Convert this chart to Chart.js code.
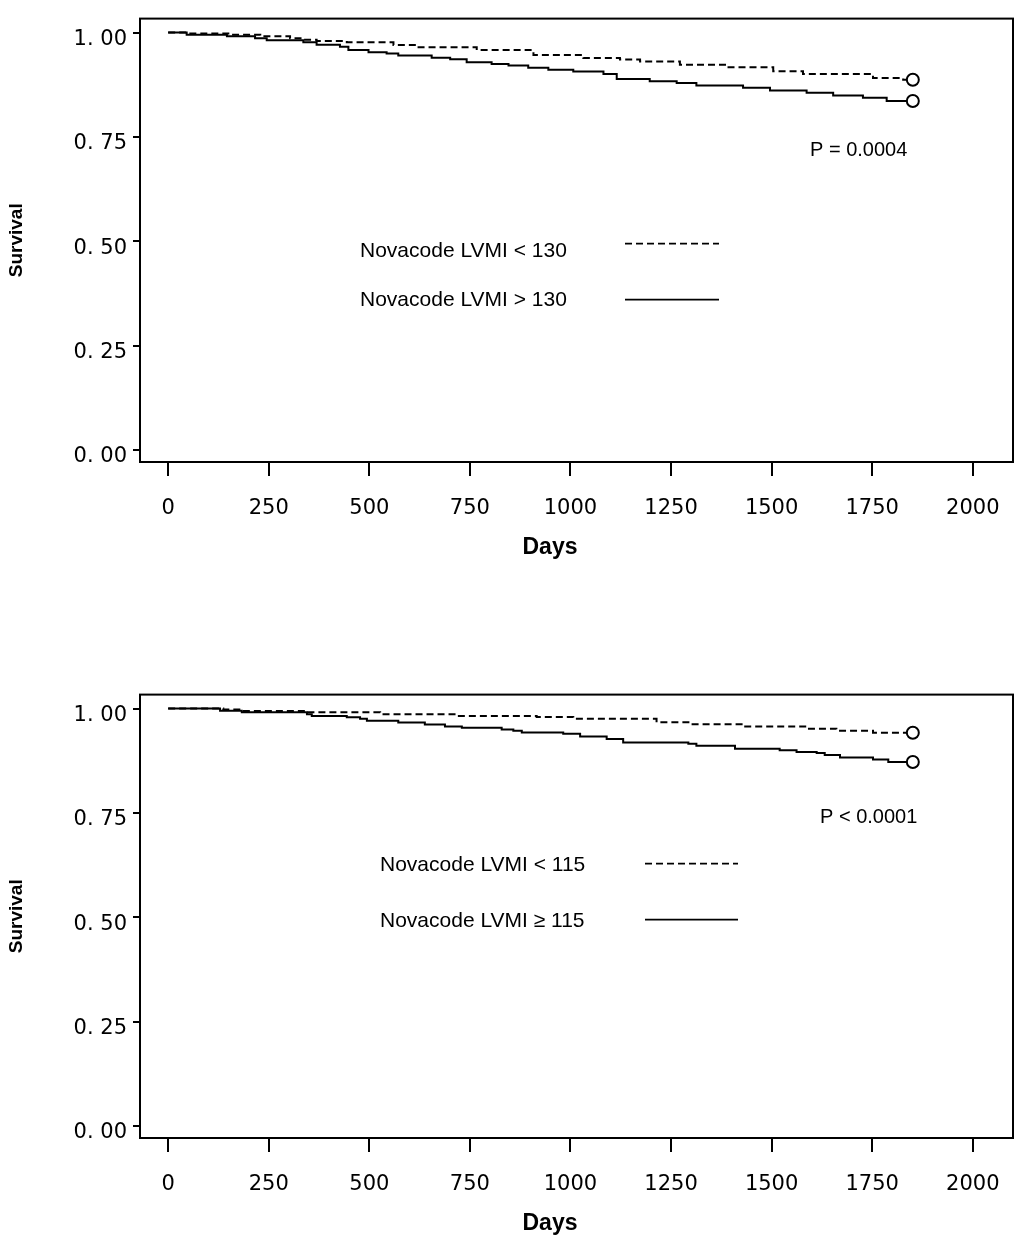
<!DOCTYPE html>
<html>
<head>
<meta charset="utf-8">
<script src="https://cdn.jsdelivr.net/npm/chart.js@4.4.1/dist/chart.umd.min.js"></script>
<style>
    body { margin: 0; background: #fff; width: 1036px; height: 1251px; overflow: hidden; position: relative; }
    canvas { position: absolute; left: 0; }
    #topChart { top: 0; }
    #bottomChart { top: 676px; }
</style>
</head>
<body>
<canvas id="topChart" width="1036" height="575"></canvas>
<canvas id="bottomChart" width="1036" height="575"></canvas>
<script>
// axis ticks
const xTickValues = [0, 250, 500, 750, 1000, 1250, 1500, 1750, 2000];
const yTickValues = [0, 0.25, 0.5, 0.75, 1];
const yTickLabels = ["0. 00", "0. 25", "0. 50", "0. 75", "1. 00"];

// top panel, cut-off 130
const topLabels = ["Novacode LVMI < 130", "Novacode LVMI > 130"];
const topLowDays = [0, 46, 158, 229, 303, 336, 369, 444, 560, 618, 767, 908, 1032, 1123, 1173, 1272, 1388, 1504, 1578, 1752, 1827, 1851];
const topLowSurv = [1, 0.998, 0.995, 0.991, 0.9865, 0.983, 0.980, 0.977, 0.9705, 0.965, 0.958, 0.9466, 0.9394, 0.9354, 0.9306, 0.923, 0.917, 0.9075, 0.901, 0.891, 0.887, 0.887];
const topHighDays = [0, 46, 146, 216, 245, 336, 369, 427, 448, 498, 543, 572, 655, 701, 742, 804, 846, 895, 945, 1007, 1082, 1115, 1197, 1264, 1313, 1429, 1496, 1587, 1653, 1727, 1786, 1851];
const topHighSurv = [1, 0.995, 0.991, 0.9865, 0.9817, 0.977, 0.971, 0.966, 0.9585, 0.953, 0.95, 0.945, 0.94, 0.936, 0.929, 0.925, 0.921, 0.916, 0.911, 0.907, 0.901, 0.889, 0.8835, 0.8795, 0.873, 0.868, 0.861, 0.856, 0.849, 0.844, 0.836, 0.836];
const topPText = "P = 0.0004";

// bottom panel, cut-off 115
const bottomLabels = ["Novacode LVMI < 115", "Novacode LVMI \u2265 115"];
const bottomLowDays = [0, 137, 183, 345, 527, 717, 916, 1007, 1214, 1297, 1429, 1587, 1661, 1752, 1851];
const bottomLowSurv = [1, 0.998, 0.9945, 0.991, 0.9865, 0.9825, 0.980, 0.9754, 0.967, 0.9627, 0.957, 0.9516, 0.947, 0.942, 0.942];
const bottomHighDays = [0, 129, 183, 345, 357, 444, 477, 494, 572, 638, 688, 730, 829, 858, 879, 982, 1024, 1090, 1131, 1293, 1313, 1409, 1520, 1562, 1612, 1632, 1670, 1752, 1790, 1851];
const bottomHighSurv = [1, 0.995, 0.991, 0.9865, 0.9825, 0.979, 0.9754, 0.9707, 0.9667, 0.962, 0.957, 0.954, 0.95, 0.9468, 0.943, 0.9397, 0.933, 0.927, 0.919, 0.916, 0.911, 0.904, 0.9, 0.896, 0.8936, 0.889, 0.883, 0.878, 0.872, 0.872];
const bottomPText = "P < 0.0001";

const tickFont = { family: "'DejaVu Sans', sans-serif", size: 21 };
const legendFont = "21px 'Liberation Sans', Arial, sans-serif";
const pFont = "20px 'Liberation Sans', Arial, sans-serif";

// frame, legend, p-value and x title drawn on top of the chart
const kmNotes = {
    id: "kmNotes",
    afterDraw(chart, args, opts) {
        const { ctx, chartArea } = chart;
        ctx.save();
        ctx.strokeStyle = "#000";
        ctx.lineWidth = 2;
        ctx.strokeRect(chartArea.left, chartArea.top, chartArea.right - chartArea.left, chartArea.bottom - chartArea.top);

        ctx.fillStyle = "#000";
        ctx.font = legendFont;
        ctx.textBaseline = "middle";
        chart.data.datasets.forEach((ds, i) => {
            const row = opts.rows[i];
            ctx.fillText(ds.label, chartArea.left + opts.textX, chartArea.top + row.textY);
            ctx.beginPath();
            ctx.lineWidth = 1.6;
            ctx.setLineDash(ds.borderDash || []);
            ctx.moveTo(chartArea.left + opts.lineX[0], chartArea.top + row.lineY);
            ctx.lineTo(chartArea.left + opts.lineX[1], chartArea.top + row.lineY);
            ctx.stroke();
            ctx.setLineDash([]);
        });
        ctx.font = pFont;
        ctx.fillText(opts.pText, chartArea.left + opts.pX, chartArea.top + opts.pY);

        ctx.font = "bold 23px 'Liberation Sans', Arial, sans-serif";
        ctx.textAlign = "center";
        ctx.fillText("Days", chartArea.left + opts.titleX, chartArea.bottom + opts.titleDy);
        ctx.restore();
    }
};

function toPoints(days, surv) {
    return days.map((d, i) => ({ x: d, y: surv[i] }));
}

function lastPointRadius(ctx) {
    return ctx.dataIndex === ctx.dataset.data.length - 1 ? 6 : 0;
}

function survivalDataset(label, days, surv, dashed) {
    return {
        label: label,
        data: toPoints(days, surv),
        stepped: "before",
        borderColor: "#000",
        borderWidth: 2,
        borderDash: dashed ? [7, 4] : [],
        fill: false,
        pointRadius: lastPointRadius,
        pointStyle: "circle",
        pointBackgroundColor: "#fff",
        pointBorderColor: "#000",
        pointBorderWidth: 2
    };
}

function renderSurvivalChart(canvasId, datasets, notes) {
    const ctx = document.getElementById(canvasId).getContext("2d");
    return new Chart(ctx, {
        type: "line",
        data: { datasets: datasets },
        plugins: [kmNotes],
        options: {
            responsive: false,
            animation: false,
            layout: { padding: { top: 18, right: 23, left: 0, bottom: 0 } },
            plugins: {
                legend: { display: false },
                tooltip: { enabled: false },
                kmNotes: notes
            },
            scales: {
                x: {
                    type: "linear",
                    min: -70,
                    max: 2100,
                    afterBuildTicks: scale => { scale.ticks = xTickValues.map(v => ({ value: v })); },
                    afterFit: scale => { scale.height = 113; },
                    ticks: {
                        color: "#000",
                        font: tickFont,
                        padding: 20,
                        maxRotation: 0,
                        callback: value => String(value)
                    },
                    grid: { drawOnChartArea: false, drawTicks: true, tickLength: 14, color: "#000", lineWidth: 2 },
                    border: { display: true, color: "#000", width: 2 }
                },
                y: {
                    min: -0.0287,
                    max: 1.0335,
                    afterBuildTicks: scale => { scale.ticks = yTickValues.map(v => ({ value: v })); },
                    afterFit: scale => { scale.width = 140; },
                    ticks: {
                        color: "#000",
                        font: tickFont,
                        padding: 6,
                        labelOffset: 7,
                        callback: value => yTickLabels[yTickValues.indexOf(value)]
                    },
                    grid: { drawOnChartArea: false, drawTicks: true, tickLength: 7, color: "#000", lineWidth: 2 },
                    border: { display: true, color: "#000", width: 2 },
                    title: {
                        display: true,
                        text: "Survival",
                        color: "#000",
                        font: { family: "'Liberation Sans', Arial, sans-serif", size: 19, weight: "bold" },
                        padding: { top: 5, bottom: 0 }
                    }
                }
            }
        }
    });
}

renderSurvivalChart("topChart", [
    survivalDataset(topLabels[0], topLowDays, topLowSurv, true),
    survivalDataset(topLabels[1], topHighDays, topHighSurv, false)
], {
    rows: [{ textY: 233, lineY: 225 }, { textY: 282, lineY: 281 }],
    textX: 220,
    lineX: [485, 579],
    pText: topPText,
    pX: 670,
    pY: 132,
    titleX: 410,
    titleDy: 86
});

renderSurvivalChart("bottomChart", [
    survivalDataset(bottomLabels[0], bottomLowDays, bottomLowSurv, true),
    survivalDataset(bottomLabels[1], bottomHighDays, bottomHighSurv, false)
], {
    rows: [{ textY: 171, lineY: 169 }, { textY: 227, lineY: 225 }],
    textX: 240,
    lineX: [505, 598],
    pText: bottomPText,
    pX: 680,
    pY: 123,
    titleX: 410,
    titleDy: 86
});
</script>
</body>
</html>
